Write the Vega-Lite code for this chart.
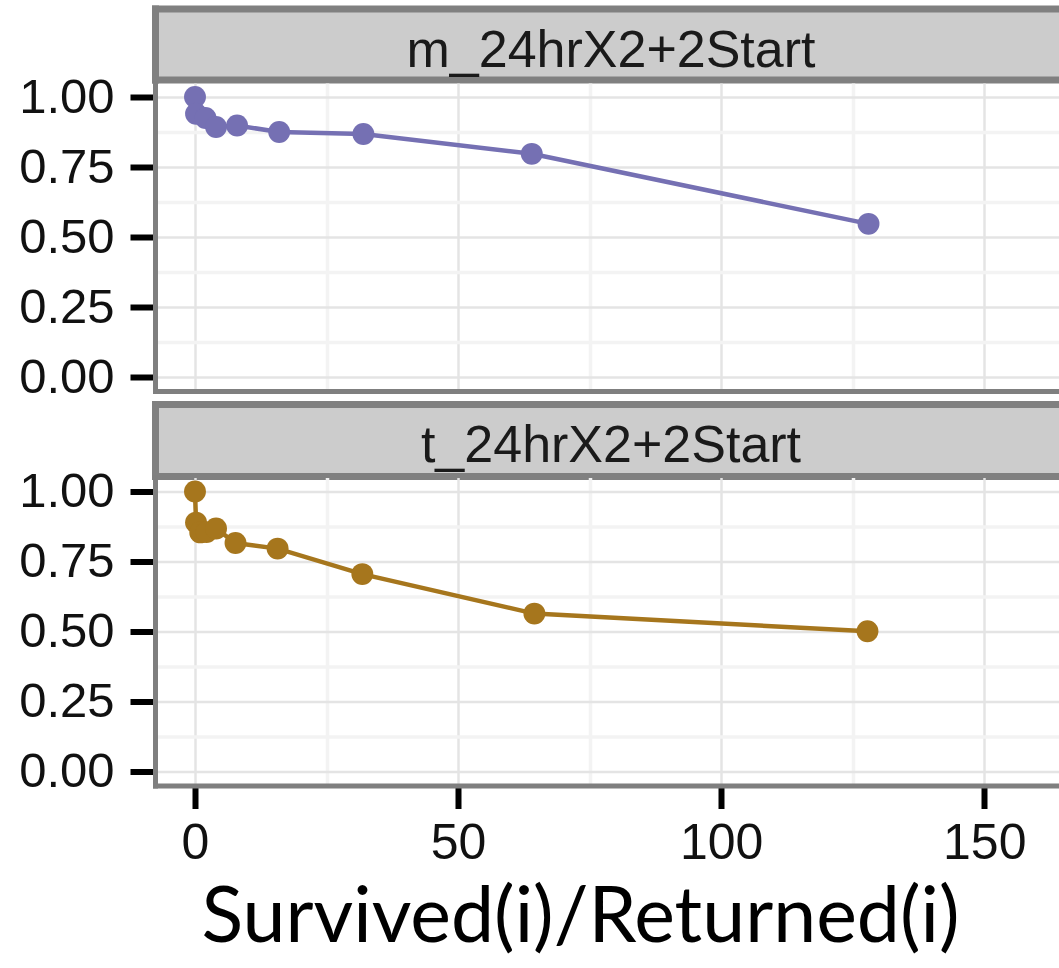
{
  "$schema": "https://vega.github.io/schema/vega-lite/v6.json",
  "background": "white",
  "padding": {"left": 18, "top": 8.5, "right": 0, "bottom": 0},
  "datasets": {
    "m": [
      {"x": 0, "y": 1.0}, {"x": 0.2, "y": 0.94}, {"x": 2, "y": 0.925}, {"x": 4, "y": 0.893},
      {"x": 8, "y": 0.898}, {"x": 16, "y": 0.875}, {"x": 32, "y": 0.868}, {"x": 64, "y": 0.797}, {"x": 128, "y": 0.547}
    ],
    "t": [
      {"x": 0, "y": 1.0}, {"x": 0.2, "y": 0.889}, {"x": 1, "y": 0.854}, {"x": 2.2, "y": 0.855}, {"x": 4, "y": 0.868},
      {"x": 7.7, "y": 0.816}, {"x": 15.7, "y": 0.796}, {"x": 31.8, "y": 0.705}, {"x": 64.5, "y": 0.564}, {"x": 127.8, "y": 0.501}
    ],
    "ms": [{"label": "m_24hrX2+2Start"}],
    "ts": [{"label": "t_24hrX2+2Start"}]
  },
  "config": {
    "view": {"stroke": null},
    "axis": {"labelFont": "Liberation Sans", "labelColor": "#111111", "titleFont": "Lato"}
  },
  "spacing": 1.5,
  "vconcat": [
    {
      "spacing": 3.5,
      "bounds": "flush",
      "vconcat": [
        {
          "width": 904, "height": 71,
          "view": {"fill": "#CCCCCC", "stroke": null},
          "layer": [
            {
              "data": {"name": "ms"},
              "mark": {"type": "text", "fontSize": 52, "font": "Liberation Sans", "color": "#1A1A1A", "dx": 4, "dy": 6.5, "baseline": "middle"},
              "encoding": {
                "text": {"field": "label"},
                "x": {"datum": 0.5, "type": "quantitative", "scale": {"domain": [0, 1]}, "axis": {"orient": "top", "labels": false, "ticks": false, "grid": false, "domain": true, "domainColor": "#808080", "domainWidth": 7, "domainCap": "square", "title": null, "minExtent": 0, "maxExtent": 0}},
                "y": {"datum": 0.5, "type": "quantitative", "scale": {"domain": [0, 1]}, "axis": {"labels": false, "ticks": false, "grid": false, "domain": true, "domainColor": "#808080", "domainWidth": 7, "domainCap": "square", "title": null, "minExtent": 0, "maxExtent": 0}}
              }
            },
            {
              "data": {"name": "ms"},
              "mark": {"type": "text", "opacity": 0},
              "encoding": {
                "text": {"field": "label"},
                "x": {"datum": 0.5, "type": "quantitative", "axis": {"orient": "bottom", "labels": false, "ticks": false, "grid": false, "domain": true, "domainColor": "#808080", "domainWidth": 7, "domainCap": "square", "title": null, "minExtent": 0, "maxExtent": 0}}
              }
            }
          ],
          "resolve": {"axis": {"x": "independent"}}
        },
        {
          "width": 904, "height": 308,
          "data": {"name": "m"},
          "encoding": {
            "x": {"field": "x", "type": "quantitative", "scale": {"domain": [-7.6, 164.2], "nice": false, "zero": false},
              "axis": {"values": [0, 25, 50, 75, 100, 125, 150], "labels": false, "ticks": false, "title": null,
                "domainColor": "#7F7F7F", "domainWidth": 5, "domainCap": "square",
                "gridColor": {"condition": {"test": "datum.value % 50 === 0", "value": "#E4E4E4"}, "value": "#F3F3F3"},
                "gridWidth": {"condition": {"test": "datum.value % 50 === 0", "value": 2.5}, "value": 3.5},
                "minExtent": 0, "maxExtent": 0}},
            "y": {"field": "y", "type": "quantitative", "scale": {"domain": [-0.05, 1.05], "nice": false, "zero": false},
              "axis": {"values": [0, 0.125, 0.25, 0.375, 0.5, 0.625, 0.75, 0.875, 1], "title": null,
                "labelExpr": "datum.value % 0.25 === 0 ? format(datum.value, '.2f') : ''",
                "labelFontSize": 49, "labelPadding": 16, "tickSize": 25, "tickColor": "#000000", "tickWidth": 6,
                "tickOpacity": {"condition": {"test": "datum.value % 0.25 === 0", "value": 1}, "value": 0},
                "domainColor": "#7F7F7F", "domainWidth": 5, "domainCap": "square",
                "gridColor": {"condition": {"test": "datum.value % 0.25 === 0", "value": "#E4E4E4"}, "value": "#F3F3F3"},
                "gridWidth": {"condition": {"test": "datum.value % 0.25 === 0", "value": 2.5}, "value": 3.5},
                "minExtent": 137, "maxExtent": 137}}
          },
          "layer": [
            {"mark": {"type": "line", "color": "#7570B3", "strokeWidth": 4.5}},
            {"mark": {"type": "point", "filled": true, "opacity": 1, "size": 480, "color": "#7570B3"}}
          ]
        }
      ]
    },
    {
      "spacing": 1.5,
      "bounds": "flush",
      "vconcat": [
        {
          "width": 904, "height": 72,
          "view": {"fill": "#CCCCCC", "stroke": null},
          "layer": [
            {
              "data": {"name": "ts"},
              "mark": {"type": "text", "fontSize": 52, "font": "Liberation Sans", "color": "#1A1A1A", "dx": 4, "dy": 5.5, "baseline": "middle"},
              "encoding": {
                "text": {"field": "label"},
                "x": {"datum": 0.5, "type": "quantitative", "scale": {"domain": [0, 1]}, "axis": {"orient": "top", "labels": false, "ticks": false, "grid": false, "domain": true, "domainColor": "#808080", "domainWidth": 7, "domainCap": "square", "title": null, "minExtent": 0, "maxExtent": 0}},
                "y": {"datum": 0.5, "type": "quantitative", "scale": {"domain": [0, 1]}, "axis": {"labels": false, "ticks": false, "grid": false, "domain": true, "domainColor": "#808080", "domainWidth": 7, "domainCap": "square", "title": null, "minExtent": 0, "maxExtent": 0}}
              }
            },
            {
              "data": {"name": "ts"},
              "mark": {"type": "text", "opacity": 0},
              "encoding": {
                "text": {"field": "label"},
                "x": {"datum": 0.5, "type": "quantitative", "axis": {"orient": "bottom", "labels": false, "ticks": false, "grid": false, "domain": true, "domainColor": "#808080", "domainWidth": 7, "domainCap": "square", "title": null, "minExtent": 0, "maxExtent": 0}}
              }
            }
          ],
          "resolve": {"axis": {"x": "independent"}}
        },
        {
          "width": 904, "height": 308,
          "data": {"name": "t"},
          "encoding": {
            "x": {"field": "x", "type": "quantitative", "scale": {"domain": [-7.6, 164.2], "nice": false, "zero": false},
              "axis": {"values": [0, 25, 50, 75, 100, 125, 150],
                "labelExpr": "datum.value % 50 === 0 ? datum.label : ''",
                "labelFontSize": 50, "labelPadding": 10, "tickSize": 23, "tickColor": "#000000", "tickWidth": 6,
                "tickOpacity": {"condition": {"test": "datum.value % 50 === 0", "value": 1}, "value": 0},
                "domainColor": "#7F7F7F", "domainWidth": 5, "domainCap": "square",
                "gridColor": {"condition": {"test": "datum.value % 50 === 0", "value": "#E4E4E4"}, "value": "#F3F3F3"},
                "gridWidth": {"condition": {"test": "datum.value % 50 === 0", "value": 2.5}, "value": 3.5},
                "title": "Survived(i)/Returned(i)", "titleFont": "Lato", "titleFontSize": 77, "titleFontWeight": "normal",
                "titleColor": "#000000", "titleX": 425, "titleY": 156, "titleAlign": "center", "titleBaseline": "alphabetic"}},
            "y": {"field": "y", "type": "quantitative", "scale": {"domain": [-0.05, 1.05], "nice": false, "zero": false},
              "axis": {"values": [0, 0.125, 0.25, 0.375, 0.5, 0.625, 0.75, 0.875, 1], "title": null,
                "labelExpr": "datum.value % 0.25 === 0 ? format(datum.value, '.2f') : ''",
                "labelFontSize": 49, "labelPadding": 16, "tickSize": 25, "tickColor": "#000000", "tickWidth": 6,
                "tickOpacity": {"condition": {"test": "datum.value % 0.25 === 0", "value": 1}, "value": 0},
                "domainColor": "#7F7F7F", "domainWidth": 5, "domainCap": "square",
                "gridColor": {"condition": {"test": "datum.value % 0.25 === 0", "value": "#E4E4E4"}, "value": "#F3F3F3"},
                "gridWidth": {"condition": {"test": "datum.value % 0.25 === 0", "value": 2.5}, "value": 3.5},
                "minExtent": 137, "maxExtent": 137}}
          },
          "layer": [
            {"mark": {"type": "line", "color": "#A6761D", "strokeWidth": 4.5}},
            {"mark": {"type": "point", "filled": true, "opacity": 1, "size": 480, "color": "#A6761D"}}
          ]
        }
      ]
    }
  ]
}
